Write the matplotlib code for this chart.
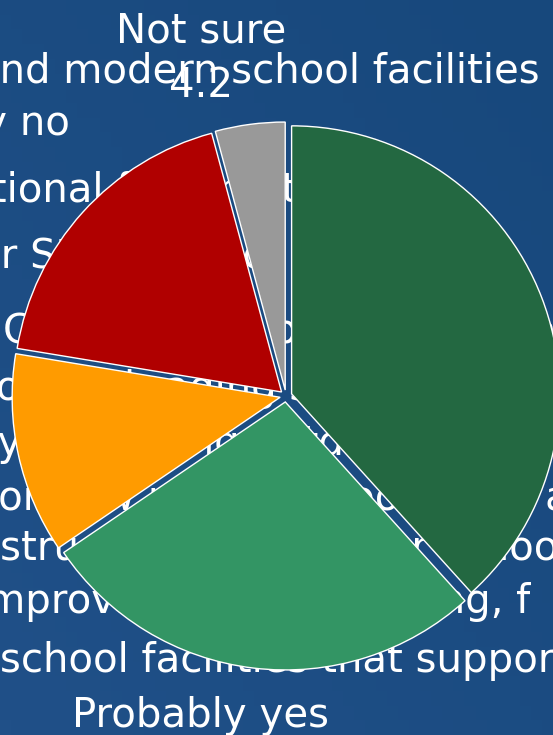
import numpy as np
import matplotlib
matplotlib.use('Agg')
import matplotlib.pyplot as plt
from matplotlib.colors import LinearSegmentedColormap

# データ
categories = ['Definitely yes', 'Probably yes', 'Probably no', 'Definitely no', 'Not sure']
values = [38.3, 27.2, 12.1, 18.2, 4.2]
colors = ['#236841', '#339564', '#ff9b00', '#b00000', '#999999']

# 背景の設問テキスト（円グラフの後ろに隠れている）
question_lines = [
    'and modern school facilities for all',
    'Definitely no',
    'additional funding to build',
    'for State school',
    'Construction bonds help pay for',
    'to repair aging school buildings',
    'by upgrading outdated classrooms',
    'for new public schools, and a',
    'construction of new year schools',
    'improving heating, wiring, f',
    'school facilities that support',
]

W, H = 553, 735
fig = plt.figure(figsize=(W / 100, H / 100), dpi=100)
ax = fig.add_axes([0, 0, 1, 1])

# 背景グラデーション
cmap = LinearSegmentedColormap.from_list('bg', ['#205088', '#17487c'])
gx, gy = np.meshgrid(np.linspace(0, 1, 50), np.linspace(0, 1, 50))
ax.imshow((gx + gy) / 2, cmap=cmap, extent=[0, W, H, 0], aspect='auto', zorder=0)

font = 'DejaVu Sans'
fs = 29
# 各行の位置 (左端x, ベースラインy：上からのピクセル)
line_pos = [(-25, 82), (70, 135), (-96, 202), (-38, 267), (3, 343), (-20, 400),
            (-28, 455), (-16, 510), (-72, 560), (-25, 613), (0, 672)]
for i, (txt, (x, y)) in enumerate(zip(question_lines, line_pos)):
    ha = 'right' if i == 1 else 'left'
    ax.text(x, H - y, txt, color='white', fontsize=fs, family=font,
            ha=ha, va='baseline', zorder=1)

# 円グラフ
cx, cy, r = 286, H - 396, 268
ax.pie(values, colors=colors, startangle=90, counterclock=False,
       center=(cx, cy), radius=r, explode=[6] * len(values),
       wedgeprops=dict(edgecolor='white', linewidth=1, zorder=2), frame=True)
ax.set_xlim(0, W)
ax.set_ylim(0, H)
ax.set_aspect('equal')
ax.axis('off')

# ラベル
ax.text(201, H - 42, categories[4], color='white', fontsize=fs, family=font,
        ha='center', va='baseline', zorder=3)
ax.text(201, H - 97, '{:.1f}'.format(values[4]), color='white', fontsize=fs,
        family=font, ha='center', va='baseline', zorder=3)
ax.text(200, H - 727, categories[1], color='white', fontsize=fs, family=font,
        ha='center', va='baseline', zorder=3)

fig.savefig('out.png', dpi=100)
